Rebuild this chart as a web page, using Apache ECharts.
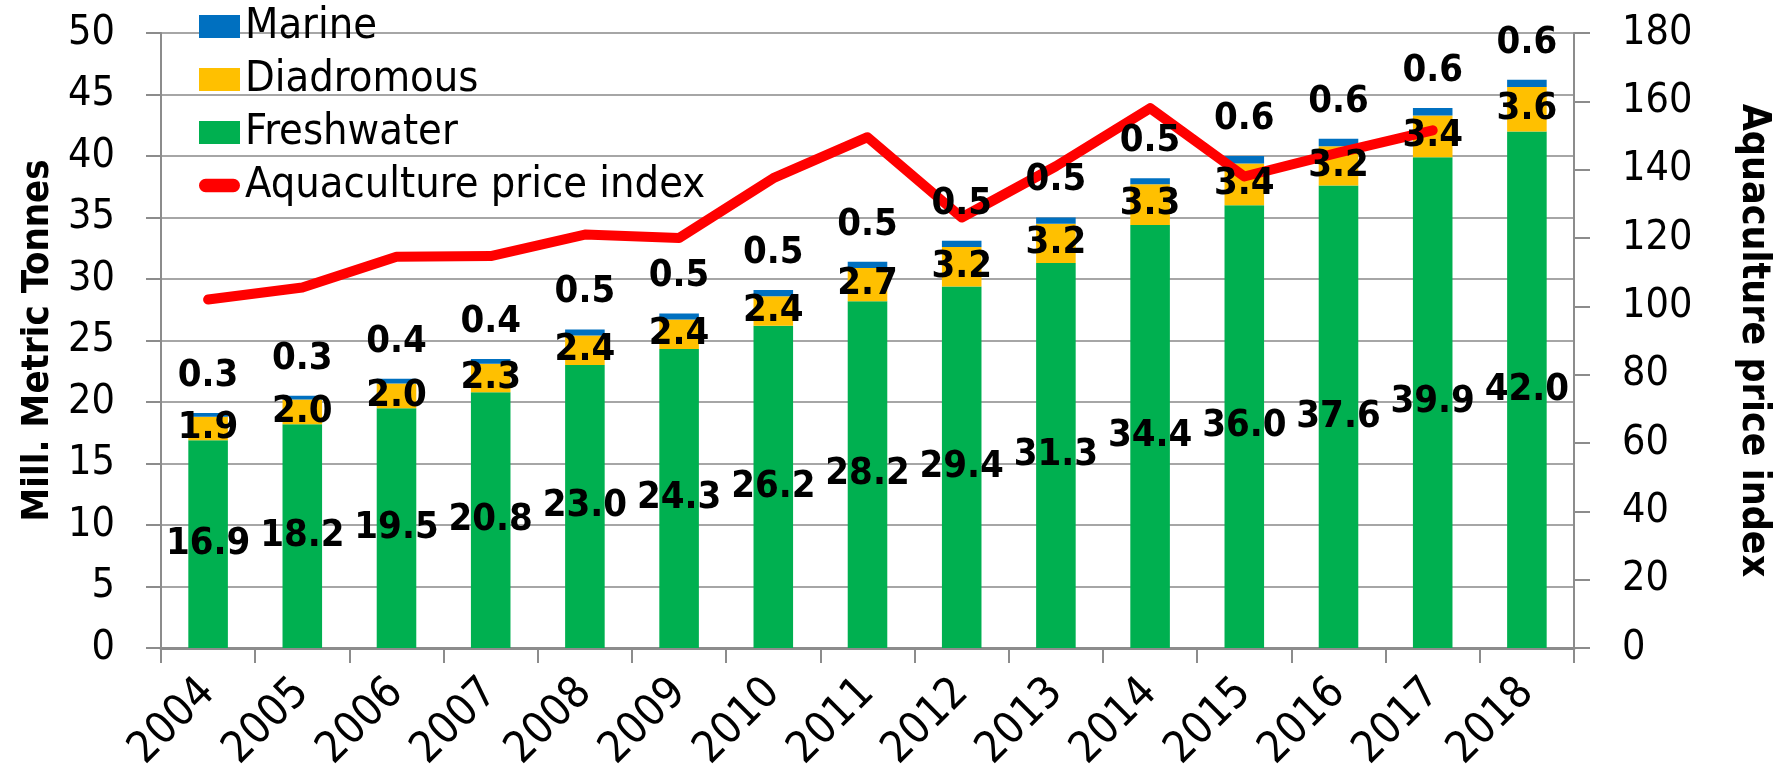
<!DOCTYPE html>
<html lang="en">
<head>
<meta charset="UTF-8">
<title>Aquaculture production</title>
<style>
  * { margin: 0; padding: 0; }
  html, body { width: 100%; height: 100%; background: #fff; }
  #chart { width: 1781px; height: 781px; }
</style>
</head>
<body>
<div id="chart"></div>
<script src="https://cdn.jsdelivr.net/npm/echarts@6/dist/echarts.min.js"></script>
<script>
// values
var years = ['2004', '2005', '2006', '2007', '2008', '2009', '2010', '2011', '2012', '2013', '2014', '2015', '2016', '2017', '2018'];
var freshwater = [16.9, 18.2, 19.5, 20.8, 23.0, 24.3, 26.2, 28.2, 29.4, 31.3, 34.4, 36.0, 37.6, 39.9, 42.0];
var diadromous = [1.9, 2.0, 2.0, 2.3, 2.4, 2.4, 2.4, 2.7, 3.2, 3.2, 3.3, 3.4, 3.2, 3.4, 3.6];
var marine = [0.3, 0.3, 0.4, 0.4, 0.5, 0.5, 0.5, 0.5, 0.5, 0.5, 0.5, 0.6, 0.6, 0.6, 0.6];
var priceIndex = [102, 105.5, 114.5, 114.7, 121, 120, 137.5, 149.5, 126, 141, 158, 138, 145, 151.5, null];

var FONT = "'DejaVu Sans Condensed', 'DejaVu Sans', sans-serif";
var grey = '#8c8c8c';

var labelStyle = {
  show: true,
  color: '#000',
  fontFamily: FONT,
  fontWeight: 'bold',
  fontSize: 38,
  formatter: function (p) { return p.value.toFixed(1); }
};

function barSeries(name, data, color, stack, z, label) {
  return {
    name: name,
    type: 'bar',
    stack: stack,
    z: z,
    barWidth: '42%',
    barGap: '-100%',
    itemStyle: { color: color },
    label: label,
    data: data
  };
}

var series = [
  barSeries('Freshwater', freshwater, '#00b050', 'total', 2, { show: false }),
  barSeries('Diadromous', diadromous, '#ffc000', 'total', 2, { show: false }),
  barSeries('Marine', marine, '#0070c0', 'total', 2, { show: false }),
  {
    name: 'Aquaculture price index',
    type: 'line',
    yAxisIndex: 1,
    z: 3,
    showSymbol: false,
    symbol: 'none',
    lineStyle: { color: '#ff0000', width: 10, cap: 'round', join: 'round' },
    itemStyle: { color: '#ff0000' },
    data: priceIndex
  },
  // transparent copies on top, only to keep the value labels above the line
  barSeries('fw-labels', freshwater, 'rgba(0,0,0,0)', 'labels', 4, Object.assign({ position: 'inside' }, labelStyle)),
  barSeries('di-labels', diadromous, 'rgba(0,0,0,0)', 'labels', 4, Object.assign({ position: 'inside' }, labelStyle)),
  barSeries('ma-labels', marine, 'rgba(0,0,0,0)', 'labels', 4, Object.assign({ position: 'top', distance: 18 }, labelStyle))
];

var chart = echarts.init(document.getElementById('chart'));
chart.setOption({
  animation: false,
  textStyle: { fontFamily: FONT },
  grid: { left: 161, right: 192, top: 33, bottom: 133 },
  legend: {
    orient: 'vertical',
    left: 194,
    top: 0,
    itemWidth: 41,
    itemHeight: 23,
    itemGap: 10,
    textStyle: { fontFamily: FONT, fontSize: 43, color: '#000' },
    data: [
      { name: 'Marine', icon: 'rect' },
      { name: 'Diadromous', icon: 'rect' },
      { name: 'Freshwater', icon: 'rect' },
      { name: 'Aquaculture price index', icon: 'path://M6.5,0 H33.5 A6.5,6.5 0 0 1 33.5,13 H6.5 A6.5,6.5 0 0 1 6.5,0 Z' }
    ]
  },
  xAxis: {
    type: 'category',
    data: years,
    axisLine: { lineStyle: { color: grey, width: 3 } },
    axisTick: { show: true, length: 15, lineStyle: { color: grey, width: 2 } },
    axisLabel: { rotate: 45, margin: 38, fontSize: 44, color: '#000', fontFamily: FONT }
  },
  yAxis: [{
    type: 'value',
    min: 0, max: 50, interval: 5,
    name: 'Mill. Metric Tonnes',
    nameLocation: 'middle',
    nameRotate: 90,
    nameGap: 104,
    nameTextStyle: { fontSize: 38, fontWeight: 'bold', color: '#000', fontFamily: FONT },
    axisLine: { show: true, lineStyle: { color: grey, width: 2 } },
    axisTick: { show: true, length: 15, lineStyle: { color: grey, width: 2 } },
    axisLabel: { margin: 46, fontSize: 41, color: '#000', fontFamily: FONT },
    splitLine: { lineStyle: { color: '#a6a6a6', width: 2 } }
  }, {
    type: 'value',
    min: 0, max: 180, interval: 20,
    name: 'Aquaculture price index',
    nameLocation: 'middle',
    nameRotate: -90,
    nameGap: 160,
    nameTextStyle: { fontSize: 39, fontWeight: 'bold', color: '#000', fontFamily: FONT },
    axisLine: { show: true, lineStyle: { color: grey, width: 2 } },
    axisTick: { show: true, length: 16, lineStyle: { color: grey, width: 2 } },
    axisLabel: { margin: 48, fontSize: 41, color: '#000', fontFamily: FONT },
    splitLine: { show: false }
  }],
  series: series
});
</script>
</body>
</html>
